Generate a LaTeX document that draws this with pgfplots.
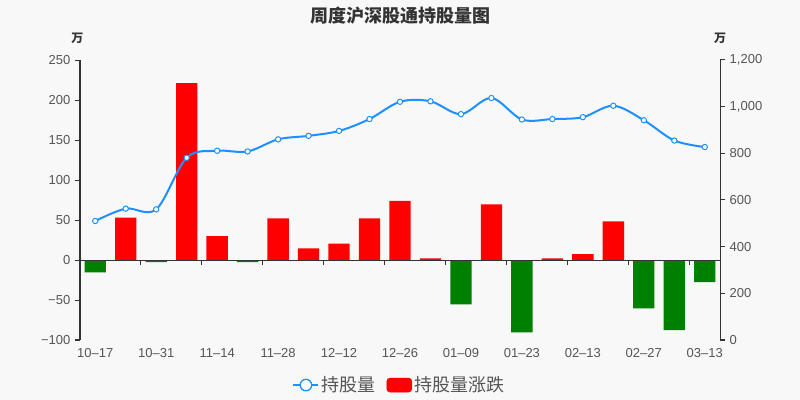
\documentclass[border=0pt]{standalone}
\usepackage{pgfplots}
\usepackage{pgfplotstable}
\pgfplotsset{compat=1.18}
\usepackage{fontspec}
\setmainfont{Liberation Sans}
\newfontfamily\cjk{Noto Sans CJK SC}
\definecolor{bg}{HTML}{F8F8F8}
\definecolor{lineblue}{HTML}{1E90FF}
\definecolor{axisc}{HTML}{333333}
\definecolor{labc}{HTML}{555555}
\definecolor{upred}{HTML}{FF0000}
\definecolor{downgreen}{HTML}{008000}

\pgfplotstableread{
x hold
0 510
1 563
2 560
3 781
4 811
5 808
6 860
7 875
8 896
9 947
10 1021
11 1023
12 968
13 1037
14 945
15 947
16 955
17 1004
18 942
19 855
20 827
}\holddata

\pgfplotstableread{
x chg
1 53
3 221
4 30
6 52
7 14.6
8 20.4
9 52
10 74
11 2
13 69.6
15 2
16 7.5
17 48.3
}\posdata

\pgfplotstableread{
x chg
0 -15.4
2 -2.5
5 -2.5
12 -55.4
14 -90.4
18 -60.4
19 -87.5
20 -27.5
}\negdata

\begin{document}
\begin{tikzpicture}
\fill[bg] (0,0) rectangle (600pt,300pt);
\useasboundingbox (0,0) rectangle (600pt,300pt);

\node[font=\cjk\bfseries\fontsize{13.5}{15}\selectfont, text=axisc] at (300pt,288.5pt) {周度沪深股通持股量图};
\node[font=\cjk\bfseries\fontsize{9}{11}\selectfont, text=axisc] at (58pt,271.5pt) {万};
\node[font=\cjk\bfseries\fontsize{9}{11}\selectfont, text=axisc] at (540pt,271.5pt) {万};

\begin{axis}[
  at={(60pt,45pt)}, anchor=south west,
  scale only axis, width=480pt, height=210pt,
  xmin=-0.5, xmax=20.5, ymin=-100, ymax=250,
  axis x line*=bottom, axis y line*=left,
  x axis line style={draw=none},
  y axis line style={axisc, line width=0.75pt},
  major x tick style={draw=none},
  major y tick style={axisc, line width=0.75pt},
  tick align=outside, major tick length=3.75pt,
  ytick={-100,-50,0,50,100,150,200,250},
  yticklabels={−100,−50,0,50,100,150,200,250},
  xtick={0,2,...,20},
  xticklabels={10–17,10–31,11–14,11–28,12–12,12–26,01–09,01–23,02–13,02–27,03–13},
  ticklabel style={font=\fontsize{9.75}{11}\selectfont, text=labc},
  xticklabel style={yshift=1pt},
  clip=false,
]
\addplot[ybar, bar width=16pt, bar shift=0pt, fill=upred, draw=none] table[x=x,y=chg]{\posdata};
\addplot[ybar, bar width=16pt, bar shift=0pt, fill=downgreen, draw=none] table[x=x,y=chg]{\negdata};
\draw[axisc, line width=0.75pt] (axis cs:-0.5,0) -- (axis cs:20.5,0);
\pgfplotsinvokeforeach{1.5,3.5,5.5,7.5,9.5,11.5,13.5,15.5,17.5,19.5}{
  \draw[axisc, line width=0.75pt] (axis cs:#1,0) -- ([yshift=-3.75pt]axis cs:#1,0);
}
\end{axis}

\begin{axis}[
  at={(60pt,45pt)}, anchor=south west,
  scale only axis, width=480pt, height=210pt,
  xmin=-0.5, xmax=20.5, ymin=0, ymax=1200,
  axis x line=none, axis y line*=right,
  y axis line style={axisc, line width=0.75pt},
  major y tick style={axisc, line width=0.75pt},
  tick align=outside, major tick length=3.75pt,
  ytick={0,200,400,600,800,1000,1200},
  yticklabels={0,200,400,600,800,{1,000},{1,200}},
  ticklabel style={font=\fontsize{9.75}{11}\selectfont, text=labc},
  clip=false,
  legend columns=2,
  legend style={draw=none, fill=none, at={(0.5,-0.161)}, anchor=center,
    font=\cjk\fontsize{13.5}{15}\selectfont, text=labc,
    /tikz/every even column/.append style={column sep=6pt}},
]
\addplot[lineblue, line width=1.5pt, smooth, tension=0.55, mark=*, mark size=2pt,
  mark options={fill=white, draw=lineblue, line width=0.75pt},
  legend image code/.code={
    \draw[lineblue, line width=1.2pt] (0pt,0pt) -- (18.75pt,0pt);
    \draw[lineblue, fill=white, line width=1pt] (9.4pt,0pt) circle (4.3pt);
  }] table[x=x,y=hold]{\holddata};
\addlegendentry{持股量}
\addlegendimage{legend image code/.code={
    \fill[upred, rounded corners=2.5pt] (0pt,-5.25pt) rectangle (18.75pt,5.25pt);
  }}
\addlegendentry{持股量涨跌}
\end{axis}
\end{tikzpicture}
\end{document}
